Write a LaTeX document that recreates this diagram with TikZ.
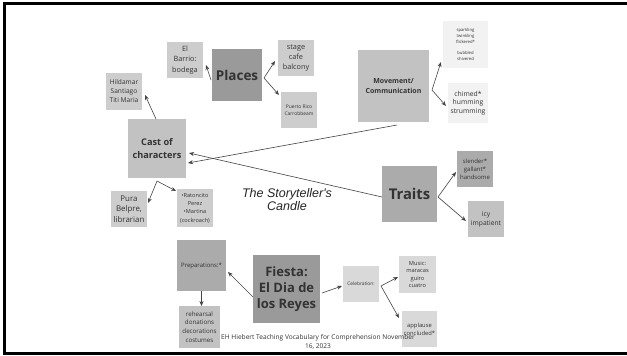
\documentclass[tikz,border=0pt]{standalone}
\usepackage{fontspec}
\setmainfont{Open Sans}
\newfontfamily\titlefont{Liberation Sans}
\usetikzlibrary{arrows.meta,calc}
\definecolor{gA}{HTML}{9A9A9A}
\definecolor{gB}{HTML}{ABABAB}
\definecolor{gC}{HTML}{C2C2C2}
\definecolor{gD}{HTML}{CDCDCD}
\definecolor{gE}{HTML}{D9D9D9}
\definecolor{gF}{HTML}{F2F2F2}
\definecolor{txt}{HTML}{333333}
\definecolor{ln}{HTML}{444444}
\newcommand{\fsz}[2]{\fontsize{#1}{#2}\selectfont}
\begin{document}
\begin{tikzpicture}[x=1pt,y=-1pt,
  box/.style={inner sep=0pt, outer sep=0pt, align=center, text=txt},
  arr/.style={draw=ln, line width=0.6pt, -{Stealth[length=5pt,width=4pt]}}]
\useasboundingbox (0,0) rectangle (627,356);
\fill[white] (0,0) rectangle (627,356);
\draw[line width=3pt, line cap=rect] (627,3.5) -- (4,3.5) -- (4,353) -- (627,353);
% nodes
\node[box, fill=gA, minimum width=50, minimum height=52, font=\bfseries\fsz{13.5}{16}] (places) at (237,75) {Places};
\node[box, fill=gD, minimum width=36, minimum height=36, font=\fsz{7.3}{10.3}] (barrio) at (185,60) {El\\Barrio:\\bodega};
\node[box, fill=gD, minimum width=36, minimum height=36, font=\fsz{7.3}{10}] (stage) at (296,58) {stage\\cafe\\balcony};
\node[box, fill=gD, minimum width=36, minimum height=36, font=\fsz{4.9}{7}] (puerto) at (299,110) {Puerto Rico\\Carrobbeam};
\node[box, fill=gD, minimum width=36, minimum height=37, font=\fsz{6.6}{9}] (hild) at (124,91.5) {Hildamar\\Santiago\\Titi Maria};
\node[box, fill=gC, minimum width=58, minimum height=59, font=\bfseries\fsz{9.2}{12.5}] (cast) at (157,148.5) {Cast of\\characters};
\node[box, fill=gC, minimum width=71, minimum height=72, font=\bfseries\fsz{7}{10}] (move) at (393.5,86) {Movement/\\Communication};
\node[box, fill=gF, minimum width=45, minimum height=47, font=\fsz{4.2}{5.8}] (spark) at (465.5,44.5) {sparkling\\twinkling\\flickered*\\[5.8pt]bubbled\\shivered};
\node[box, fill=gF, minimum width=40, minimum height=40, font=\fsz{6.8}{8.6}] (chimed) at (468,103) {chimed*\\humming\\strumming};
\node[box, fill=gB, minimum width=36, minimum height=36, font=\fsz{6}{8}] (slender) at (475,169) {slender*\\gallant*\\handsome};
\node[box, fill=gB, minimum width=55, minimum height=56, font=\bfseries\fsz{14.8}{17}] (traits) at (409.5,194) {Traits};
\node[box, fill=gC, minimum width=36, minimum height=36, font=\fsz{6.7}{9}] (icy) at (486,219) {icy\\impatient};
\node[box, fill=gD, minimum width=36, minimum height=36, font=\fsz{7.9}{10.5}] (pura) at (129,209) {Pura\\Belpre,\\librarian};
\node[box, fill=gD, minimum width=36, minimum height=38, font=\fsz{5.6}{8.3}] (raton) at (195,208) {•Ratoncito\\Perez\\•Martina\\(cockroach)};
\node[box, fill=gB, minimum width=49, minimum height=51, font=\fsz{6}{8}] (prep) at (201.5,265.5) {Preparations:*};
\node[box, fill=gC, minimum width=41, minimum height=42, font=\fsz{6.2}{8.7}] (rehe) at (199.5,327) {rehearsal\\donations\\decorations\\costumes};
\node[box, fill=gA, minimum width=67, minimum height=68, font=\bfseries\fsz{13}{16}] (fiesta) at (286.5,289) {Fiesta:\\El Dia de\\los Reyes};
\node[box, fill=gE, minimum width=36, minimum height=36, font=\fsz{4.8}{7}] (celeb) at (361,284) {Celebration:};
\node[box, fill=gE, minimum width=37, minimum height=37, font=\fsz{5.7}{7.6}] (music) at (417.5,274.5) {Music:\\maracas\\guiro\\cuatro};
\node[box, fill=gE, minimum width=35, minimum height=36, font=\fsz{5.8}{8}] (appl) at (419.5,329) {applause\\concluded*};
\node[box, text=black!85, font=\titlefont\itshape\fsz{12.5}{13.5}] (title) at (287,199.5) {The Storyteller's\\Candle};
\node[box, text=txt, font=\fsz{6.6}{9}] (foot) at (318,341.5) {EH Hiebert Teaching Vocabulary for Comprehension November\\16, 2023};
% connectors
\draw[arr] ($(places.west)+(-1,5)$) -- ($(barrio.east)+(3,5)$);
\draw[arr] ($(places.east)+(2,3)$) -- ($(stage.west)+(-3,3)$);
\draw[arr] ($(places.east)+(2,3)$) -- ($(puerto.north west)+(-2,3)$);
\draw[arr] ($(cast.north)+(-1,0)$) -- ($(hild.south east)+(3,-15)$);
\draw[arr] ($(move.south)+(3.5,3)$) -- ($(cast.east)+(2,14.5)$);
\draw[arr] ($(traits.west)+(0,3)$) -- ($(cast.east)+(3,4.5)$);
\draw[arr] ($(move.east)+(3,4)$) -- ($(spark.south west)+(-2,-6)$);
\draw[arr] ($(move.east)+(3,4)$) -- ($(chimed.west)+(-2,3)$);
\draw[arr] ($(traits.east)+(1,3)$) -- ($(slender.west)+(-1,3)$);
\draw[arr] ($(traits.east)+(1,3)$) -- ($(icy.west)+(-2,2)$);
\draw[arr] ($(cast.south)+(0,3)$) -- ($(pura.east)+(1,-6)$);
\draw[arr] ($(cast.south)+(0,3)$) -- ($(raton.north west)+(-1,2)$);
\draw[arr] ($(fiesta.west)+(0,8)$) -- ($(prep.east)+(2,6.5)$);
\draw[arr] (prep.south) -- (prep.south |- rehe.north);
\draw[arr] ($(fiesta.east)+(2,4)$) -- ($(celeb.west)+(-1,2)$);
\draw[arr] ($(celeb.east)+(2,2)$) -- ($(music.west)+(-1,2.5)$);
\draw[arr] ($(celeb.east)+(2,2)$) -- ($(appl.west)+(-3,-11)$);
\end{tikzpicture}
\end{document}
